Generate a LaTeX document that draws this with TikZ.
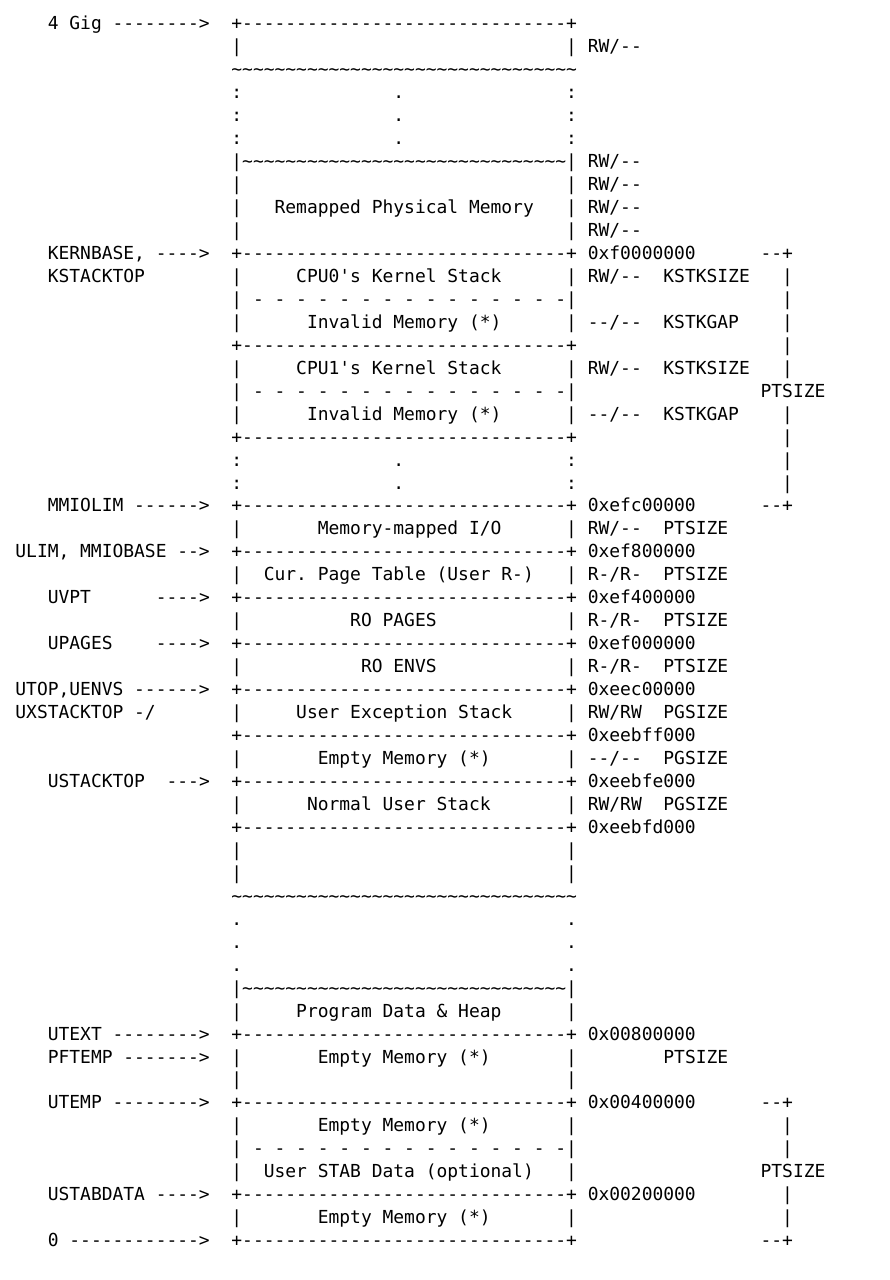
\documentclass[tikz,border=0pt]{standalone}
\usepackage{fontspec}
\setmonofont{DejaVu Sans Mono}
\ExplSyntaxOn
\cs_new:Npn \Rep #1#2 { \prg_replicate:nn {#1} {#2} }
\ExplSyntaxOff
\newcommand\Bline{+\Rep{30}{-}+}
\newcommand\Tl{\textasciitilde}
\newcommand\Dl{| - - - - - - - - - - - - - - -|}
\tikzset{txt/.style={anchor=base west,inner sep=0pt,outer sep=0pt,
  font=\ttfamily\fontsize{17.94}{23}\selectfont\frenchspacing}}
\newcommand\seg[3]{\node[txt] (l#1c#2) at ({15.4+10.8*#2},{29.8+22.96*(#1-1)}) {#3};}
\begin{document}
\begin{tikzpicture}[x=1pt,y=-1pt]
\useasboundingbox[fill=white] (0,0) rectangle (890,1280);
% 1-10
\seg{1}{3}{4 Gig -------->}\seg{1}{20}{\Bline}
\seg{2}{20}{|}\seg{2}{51}{| RW/--}
\seg{3}{20}{\Rep{32}{\Tl}}
\foreach \n in {4,5,6}{\seg{\n}{20}{:}\seg{\n}{35}{.}\seg{\n}{51}{:}}
\seg{7}{20}{|\Rep{30}{\Tl}| RW/--}
\seg{8}{20}{|}\seg{8}{51}{| RW/--}
\seg{9}{20}{|}\seg{9}{24}{Remapped Physical Memory}\seg{9}{51}{| RW/--}
\seg{10}{20}{|}\seg{10}{51}{| RW/--}
% 11-21
\seg{11}{3}{KERNBASE, ---->}\seg{11}{20}{\Bline{} 0xf0000000}\seg{11}{69}{--+}
\seg{12}{3}{KSTACKTOP}\seg{12}{20}{|}\seg{12}{26}{CPU0's Kernel Stack}\seg{12}{51}{| RW/--}\seg{12}{60}{KSTKSIZE}\seg{12}{71}{|}
\seg{13}{20}{\Dl}\seg{13}{71}{|}
\seg{14}{20}{|}\seg{14}{27}{Invalid Memory (*)}\seg{14}{51}{| --/--}\seg{14}{60}{KSTKGAP}\seg{14}{71}{|}
\seg{15}{20}{\Bline}\seg{15}{71}{|}
\seg{16}{20}{|}\seg{16}{26}{CPU1's Kernel Stack}\seg{16}{51}{| RW/--}\seg{16}{60}{KSTKSIZE}\seg{16}{71}{|}
\seg{17}{20}{\Dl}\seg{17}{69}{PTSIZE}
\seg{18}{20}{|}\seg{18}{27}{Invalid Memory (*)}\seg{18}{51}{| --/--}\seg{18}{60}{KSTKGAP}\seg{18}{71}{|}
\seg{19}{20}{\Bline}\seg{19}{71}{|}
\foreach \n in {20,21}{\seg{\n}{20}{:}\seg{\n}{35}{.}\seg{\n}{51}{:}\seg{\n}{71}{|}}
% 22-36
\seg{22}{3}{MMIOLIM ------>}\seg{22}{20}{\Bline{} 0xefc00000}\seg{22}{69}{--+}
\seg{23}{20}{|}\seg{23}{28}{Memory-mapped I/O}\seg{23}{51}{| RW/--}\seg{23}{60}{PTSIZE}
\seg{24}{0}{ULIM, MMIOBASE -->}\seg{24}{20}{\Bline{} 0xef800000}
\seg{25}{20}{|}\seg{25}{23}{Cur. Page Table (User R-)}\seg{25}{51}{| R-/R-}\seg{25}{60}{PTSIZE}
\seg{26}{3}{UVPT}\seg{26}{13}{---->}\seg{26}{20}{\Bline{} 0xef400000}
\seg{27}{20}{|}\seg{27}{31}{RO PAGES}\seg{27}{51}{| R-/R-}\seg{27}{60}{PTSIZE}
\seg{28}{3}{UPAGES}\seg{28}{13}{---->}\seg{28}{20}{\Bline{} 0xef000000}
\seg{29}{20}{|}\seg{29}{32}{RO ENVS}\seg{29}{51}{| R-/R-}\seg{29}{60}{PTSIZE}
\seg{30}{0}{UTOP,UENVS ------>}\seg{30}{20}{\Bline{} 0xeec00000}
\seg{31}{0}{UXSTACKTOP -/}\seg{31}{20}{|}\seg{31}{26}{User Exception Stack}\seg{31}{51}{| RW/RW}\seg{31}{60}{PGSIZE}
\seg{32}{20}{\Bline{} 0xeebff000}
\seg{33}{20}{|}\seg{33}{28}{Empty Memory (*)}\seg{33}{51}{| --/--}\seg{33}{60}{PGSIZE}
\seg{34}{3}{USTACKTOP}\seg{34}{14}{--->}\seg{34}{20}{\Bline{} 0xeebfe000}
\seg{35}{20}{|}\seg{35}{27}{Normal User Stack}\seg{35}{51}{| RW/RW}\seg{35}{60}{PGSIZE}
\seg{36}{20}{\Bline{} 0xeebfd000}
% 37-54
\foreach \n in {37,38}{\seg{\n}{20}{|}\seg{\n}{51}{|}}
\seg{39}{20}{\Rep{32}{\Tl}}
\foreach \n in {40,41,42}{\seg{\n}{20}{.}\seg{\n}{51}{.}}
\seg{43}{20}{|\Rep{30}{\Tl}|}
\seg{44}{20}{|}\seg{44}{26}{Program Data \& Heap}\seg{44}{51}{|}
\seg{45}{3}{UTEXT -------->}\seg{45}{20}{\Bline{} 0x00800000}
\seg{46}{3}{PFTEMP ------->}\seg{46}{20}{|}\seg{46}{28}{Empty Memory (*)}\seg{46}{51}{|}\seg{46}{60}{PTSIZE}
\seg{47}{20}{|}\seg{47}{51}{|}
\seg{48}{3}{UTEMP -------->}\seg{48}{20}{\Bline{} 0x00400000}\seg{48}{69}{--+}
\seg{49}{20}{|}\seg{49}{28}{Empty Memory (*)}\seg{49}{51}{|}\seg{49}{71}{|}
\seg{50}{20}{\Dl}\seg{50}{71}{|}
\seg{51}{20}{|}\seg{51}{23}{User STAB Data (optional)}\seg{51}{51}{|}\seg{51}{69}{PTSIZE}
\seg{52}{3}{USTABDATA ---->}\seg{52}{20}{\Bline{} 0x00200000}\seg{52}{71}{|}
\seg{53}{20}{|}\seg{53}{28}{Empty Memory (*)}\seg{53}{51}{|}\seg{53}{71}{|}
\seg{54}{3}{0 ------------>}\seg{54}{20}{\Bline}\seg{54}{69}{--+}
\end{tikzpicture}
\end{document}
